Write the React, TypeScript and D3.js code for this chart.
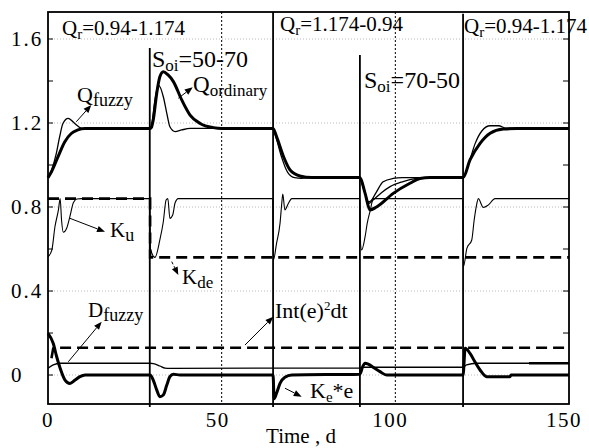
import React from "react";
import * as d3 from "d3";

type P = [number, number];

// ---- data (time in days, value) ----
const qOrdinary: P[] = [[0,0.94],[1,0.968],[2.9,1.04],[4.8,1.11],[6.7,1.15],[8.6,1.167],[10.6,1.174],[29.4,1.174],[29.8,1.18],[30.3,1.214],[31.3,1.341],[32.2,1.42],[33.2,1.444],[34.5,1.43],[36.1,1.397],[38.5,1.31],[40.9,1.238],[43.8,1.198],[47.6,1.178],[50,1.174],[64.8,1.174],[65.8,1.135],[67.8,1.04],[69.7,0.976],[72.5,0.948],[76,0.94],[89.8,0.94],[91.3,0.865],[92.7,0.786],[94.6,0.80],[99.4,0.865],[104.2,0.913],[107.1,0.936],[110,0.94],[119.5,0.94],[121.5,1.024],[124.4,1.103],[127.3,1.151],[131.1,1.171],[135,1.174],[150,1.174]];
const qFuzzy: P[] = [[0,0.94],[1,0.975],[2.4,1.055],[3.3,1.13],[4.3,1.198],[5.8,1.222],[7.7,1.198],[9.6,1.176],[12,1.174],[29.4,1.174],[29.9,1.198],[30.8,1.31],[31.8,1.38],[33.2,1.325],[34.2,1.246],[35.1,1.182],[36.6,1.159],[38.5,1.167],[40.9,1.174],[64.8,1.174],[65.5,1.14],[67.2,1.04],[69,0.965],[71,0.94],[73,0.937],[76,0.94],[89.8,0.94],[90.8,0.9],[92.2,0.825],[93,0.83],[94.5,0.87],[96.5,0.92],[99.4,0.936],[102,0.94],[119.5,0.94],[121,1.0],[123,1.103],[124.9,1.162],[127.3,1.187],[129.7,1.187],[132,1.175],[150,1.174]];
const qFuzzyDip: P[] = [[89.8,0.94],[91,0.88],[92.5,0.818],[93.6,0.833],[96,0.868],[98.5,0.897],[102,0.92],[106,0.936],[110,0.94]];
const kU: P[] = [[0,0.563],[1.1,0.595],[2,0.706],[3,0.786],[3.5,0.84],[3.9,0.738],[4.4,0.68],[5.4,0.70],[6.3,0.754],[7.3,0.82],[8.3,0.838],[9.7,0.84],[29.3,0.84],[29.5,0.6],[30.8,0.56],[32.2,0.643],[33.2,0.73],[34,0.833],[34.5,0.84],[35.1,0.746],[35.9,0.762],[36.6,0.82],[37.5,0.84],[64.7,0.84],[64.9,0.548],[65.8,0.627],[66.8,0.722],[67.3,0.817],[67.6,0.862],[68.2,0.786],[69.2,0.817],[70.2,0.84],[89.8,0.84],[90.0,0.62],[90.3,0.595],[91.3,0.659],[91.9,0.722],[92.7,0.778],[93.7,0.84],[119.4,0.84],[119.6,0.516],[120.6,0.603],[122,0.643],[122.7,0.738],[123.3,0.802],[123.9,0.84],[125.3,0.798],[126.8,0.81],[128.7,0.84],[150,0.84]];
const kDe: P[] = [[0,0.84],[29.4,0.84],[29.4,0.56],[150,0.56]];
const intE2: P[] = [[1,0.08],[1.5,0.127],[2,0.13],[150,0.13]];
const dFuzzy: P[] = [[0,0.032],[1.5,0.048],[3.5,0.056],[29.4,0.056],[30.3,0.054],[32.2,0.043],[33.7,0.033],[35,0.032],[89.8,0.033],[90.8,0.037],[119.5,0.037],[120.5,0.048],[123.4,0.056],[150,0.056]];
const dFuzzyTail: P[] = [[138.5,0.056],[150,0.056]];
const keE: P[] = [[0,0.198],[1.5,0.151],[2.5,0.087],[3.5,0.032],[4.9,-0.024],[6.3,-0.04],[7.8,-0.024],[9.2,-0.008],[10.7,0],[29.4,0],[30.3,-0.024],[31.3,-0.071],[32.2,-0.103],[33.2,-0.095],[34.2,-0.048],[35.1,-0.008],[36.1,0.004],[38,0],[64.8,0],[65.1,-0.113],[65.8,-0.087],[66.8,-0.04],[68.2,-0.011],[70.2,0],[89.8,0.004],[90.6,0.04],[91.3,0.056],[92.2,0.052],[93.7,0.036],[95.6,0.016],[97.5,0],[119.5,0],[120.1,0.127],[121.5,0.103],[122.9,0.063],[124.4,0.024],[126.3,-0.008],[133,-0.008],[133.3,0],[150,0]];

const eventTimes = [29.3, 64.8, 89.8, 119.5];
const eventTops = [1.557, 1.729, 1.524, 1.72];

const yMajor = [0, 0.4, 0.8, 1.2, 1.6];
const yMajorLabels = ["0", "0.4", "0.8", "1.2", "1.6"];
const yMinor = [0.2, 0.6, 1.0, 1.4];
const xTicks = [0, 50, 100, 150];
const xTickLabels = ["0", "50", "100", "150"];
const xDotted = [50, 100];

type Part = { t: string; sub?: boolean; sup?: boolean };
const labels: { t: number; v: number; size: number; subSize: number; parts: Part[] }[] = [
  { t: 4.03, v: 1.619, size: 21, subSize: 15, parts: [{ t: "Q" }, { t: "r", sub: true }, { t: "=0.94-1.174" }] },
  { t: 66.8, v: 1.636, size: 21, subSize: 15, parts: [{ t: "Q" }, { t: "r", sub: true }, { t: "=1.174-0.94" }] },
  { t: 119.8, v: 1.629, size: 21, subSize: 15, parts: [{ t: "Q" }, { t: "r", sub: true }, { t: "=0.94-1.174" }] },
  { t: 29.94, v: 1.467, size: 24, subSize: 17, parts: [{ t: "S" }, { t: "oi", sub: true }, { t: "=50-70" }] },
  { t: 90.98, v: 1.367, size: 24, subSize: 17, parts: [{ t: "S" }, { t: "oi", sub: true }, { t: "=70-50" }] },
  { t: 41.75, v: 1.35, size: 23, subSize: 17, parts: [{ t: "Q" }, { t: "ordinary", sub: true }] },
  { t: 8.35, v: 1.302, size: 22, subSize: 18, parts: [{ t: "Q" }, { t: "fuzzy", sub: true }] },
  { t: 17.85, v: 0.659, size: 21, subSize: 18, parts: [{ t: "K" }, { t: "u", sub: true }] },
  { t: 38.58, v: 0.433, size: 21, subSize: 17, parts: [{ t: "K" }, { t: "de", sub: true }] },
  { t: 11.52, v: 0.274, size: 21, subSize: 18, parts: [{ t: "D" }, { t: "fuzzy", sub: true }] },
  { t: 65.36, v: 0.271, size: 22, subSize: 13, parts: [{ t: "Int(e)" }, { t: "2", sup: true }, { t: "dt" }] },
  { t: 75.43, v: -0.11, size: 22, subSize: 15, parts: [{ t: "K" }, { t: "e", sub: true }, { t: "*e" }] },
];

const arrows: { from: P; to: P; dashed?: boolean }[] = [
  { from: [8.15, 1.206], to: [12.47, 1.286] },
  { from: [37.52, 1.318], to: [41.66, 1.37] },
  { from: [6.33, 0.746], to: [16.41, 0.682] },
  { from: [35.62, 0.54], to: [37.52, 0.476], dashed: true },
  { from: [5.84, 0.063], to: [15.46, 0.254] },
  { from: [56.72, 0.143], to: [64.87, 0.278] },
  { from: [68.24, -0.063], to: [73.04, -0.103] },
];

const W = 589, H = 448;
const L = 48, R = 569, T = 12, B = 404;
const x = d3.scaleLinear().domain([0, 150]).range([L, R]);
const y = d3.scaleLinear().domain([-0.138, 1.7286]).range([B, T]);
const sm = d3.line<P>().x(d => x(d[0])).y(d => y(d[1])).curve(d3.curveMonotoneX);
const lin = d3.line<P>().x(d => x(d[0])).y(d => y(d[1]));
const FONT = "Liberation Serif, Times New Roman, serif";

function Label({ t, v, size, subSize, parts }: { t: number; v: number; size: number; subSize: number; parts: Part[] }) {
  let shift = 0;
  return (
    <text x={x(t)} y={y(v)} style={{ fontFamily: FONT, fontSize: size }} fill="#000">
      {parts.map((p, i) => {
        const target = p.sub ? 4 : p.sup ? -8 : 0;
        const dy = target - shift;
        shift = target;
        return (
          <tspan key={i} dy={dy} style={{ fontSize: p.sub || p.sup ? subSize : size }}>{p.t}</tspan>
        );
      })}
    </text>
  );
}

function Arrow({ from, to, dashed }: { from: P; to: P; dashed?: boolean }) {
  const x1 = x(from[0]), y1 = y(from[1]), x2 = x(to[0]), y2 = y(to[1]);
  const ang = Math.atan2(y2 - y1, x2 - x1);
  const len = 8, wid = 3.2;
  const bx = x2 - len * Math.cos(ang), by = y2 - len * Math.sin(ang);
  const p1 = [bx + wid * Math.sin(ang), by - wid * Math.cos(ang)];
  const p2 = [bx - wid * Math.sin(ang), by + wid * Math.cos(ang)];
  return (
    <g>
      <line x1={x1} y1={y1} x2={bx} y2={by} stroke="#000" strokeWidth={1} strokeDasharray={dashed ? "3,2" : undefined} />
      <polygon points={`${x2},${y2} ${p1[0]},${p1[1]} ${p2[0]},${p2[1]}`} fill="#000" />
    </g>
  );
}

const xLabelShift = [0, -4, -5, -5];

export default function App() {
  return (
    <svg width={W} height={H} style={{ position: "absolute", left: 0, top: 0, background: "#fff" }}>
      <rect x={0} y={0} width={W} height={H} fill="#fff" />
      {yMajor.map(v => (
        <line key={v} x1={L} x2={R} y1={y(v)} y2={y(v)} stroke="#aaa" strokeWidth={0.8} strokeDasharray="1,2" />
      ))}
      {xDotted.map(t => (
        <line key={t} x1={x(t)} x2={x(t)} y1={T} y2={B} stroke="#000" strokeWidth={1} strokeDasharray="2,2" />
      ))}
      {[...yMajor, ...yMinor].map(v => (
        <g key={"t" + v}>
          <line x1={L} x2={L + 5} y1={y(v)} y2={y(v)} stroke="#000" strokeWidth={1} />
          <line x1={R - 6} x2={R} y1={y(v)} y2={y(v)} stroke="#000" strokeWidth={1} />
        </g>
      ))}
      {eventTimes.map((t, i) => (
        <line key={"e" + i} x1={x(t)} x2={x(t)} y1={y(eventTops[i])} y2={B + 3} stroke="#000" strokeWidth={1.8} />
      ))}
      <path d={lin(kDe)!} fill="none" stroke="#000" strokeWidth={2.6} strokeDasharray="11,6" />
      <path d={lin(intE2)!} fill="none" stroke="#000" strokeWidth={2.6} strokeDasharray="11,6" />
      <path d={sm(kU)!} fill="none" stroke="#000" strokeWidth={1.1} />
      <path d={sm(dFuzzy)!} fill="none" stroke="#000" strokeWidth={1.3} />
      <path d={lin(dFuzzyTail)!} fill="none" stroke="#000" strokeWidth={2.6} />
      <path d={sm(keE)!} fill="none" stroke="#000" strokeWidth={3} />
      <path d={sm(qFuzzyDip)!} fill="none" stroke="#000" strokeWidth={1.3} />
      <path d={sm(qFuzzy)!} fill="none" stroke="#000" strokeWidth={1.3} />
      <path d={sm(qOrdinary)!} fill="none" stroke="#000" strokeWidth={3} />
      <rect x={L} y={T} width={R - L} height={B - T} fill="none" stroke="#000" strokeWidth={1.8} />
      {yMajor.map((v, i) => (
        <text key={"yl" + v} x={11} y={y(v) + 7} style={{ fontFamily: FONT, fontSize: 21, letterSpacing: 2 }}>{yMajorLabels[i]}</text>
      ))}
      {xTicks.map((t, i) => (
        <text key={"xl" + t} x={x(t) + xLabelShift[i]} y={427} textAnchor="middle" style={{ fontFamily: FONT, fontSize: 21, letterSpacing: 1.5 }}>{xTickLabels[i]}</text>
      ))}
      <text x={301} y={443} textAnchor="middle" style={{ fontFamily: FONT, fontSize: 21 }}>Time , d</text>
      {arrows.map((a, i) => <Arrow key={"a" + i} {...a} />)}
      {labels.map((l, i) => <Label key={"l" + i} {...l} />)}
    </svg>
  );
}
